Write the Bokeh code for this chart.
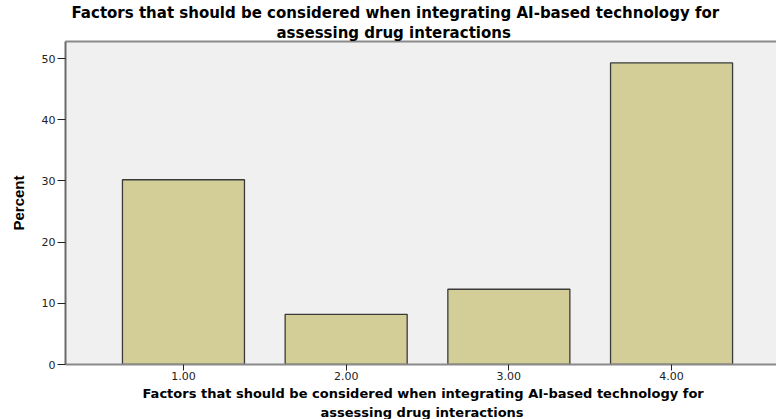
from bokeh.plotting import figure
from bokeh.models import Range1d, FixedTicker, ColumnDataSource, Title, LinearAxis
from bokeh.embed import file_html
from bokeh.resources import INLINE

# ---- data ----
categories = [1, 2, 3, 4]
tick_labels = ["1.00", "2.00", "3.00", "4.00"]
percent = [30.2, 8.2, 12.3, 49.3]
y_ticks = [0, 10, 20, 30, 40, 50]
title_lines = ["Factors that should be considered when integrating AI-based technology for",
               "assessing drug interactions"]
x_label_lines = ["Factors that should be considered when integrating AI-based technology for",
                 "assessing drug interactions"]
y_label = "Percent"

src = ColumnDataSource(dict(x=categories, top=percent))

p = figure(width=776, height=419, output_backend="svg", toolbar_location=None, title=None,
           x_range=Range1d(0.275, 4.645), y_range=Range1d(0, 52.8),
           min_border_left=65, min_border_right=0, min_border_top=41, min_border_bottom=53)

p.background_fill_color = "#F0F0F0"
p.border_fill_color = "white"
p.outline_line_color = None

p.vbar(x="x", top="top", width=0.75, source=src, fill_color="#D3CE97",
       line_color="#3a3a3a", line_width=1.3)

p.xgrid.visible = False
p.ygrid.visible = False

# bottom x axis
xa = p.below[0]
xa.ticker = FixedTicker(ticks=categories)
xa.major_label_overrides = {c: t for c, t in zip(categories, tick_labels)}
xa.minor_tick_line_color = None
xa.major_tick_out = 6
xa.major_tick_in = 0
xa.major_tick_line_color = "#222222"
xa.axis_line_color = "#8a8a8a"
xa.axis_line_width = 2
xa.major_label_text_font = "DejaVu Sans"
xa.major_label_text_font_size = "11px"
xa.major_label_text_color = "#222222"
xa.major_label_standoff = 1

# y axis
ya = p.left[0]
ya.ticker = FixedTicker(ticks=y_ticks)
ya.minor_tick_line_color = None
ya.major_tick_out = 8
ya.major_tick_in = 0
ya.major_tick_line_color = "#222222"
ya.axis_line_color = "#6a6a6a"
ya.axis_line_width = 2
ya.major_label_text_font = "DejaVu Sans"
ya.major_label_text_font_size = "11px"
ya.major_label_text_color = "#222222"
ya.major_label_standoff = 2
ya.axis_label = y_label
ya.axis_label_text_font = "'Liberation Sans Narrow', 'Liberation Sans', sans-serif"
ya.axis_label_text_font_style = "bold"
ya.axis_label_text_font_size = "15px"
ya.axis_label_text_color = "black"
ya.axis_label_standoff = 12

# top border of the frame (an axis without ticks)
top_axis = LinearAxis(ticker=FixedTicker(ticks=[]), axis_line_color="#8a8a8a", axis_line_width=2,
                      major_tick_line_color=None, minor_tick_line_color=None,
                      major_label_text_font_size="0px", major_label_standoff=0,
                      major_tick_out=0, major_tick_in=0)
p.add_layout(top_axis, "above")

# title: second line nearest the frame, first line above it (left offsets centre the lines)
title_offsets = [6, 276 - 65]
for txt, off in reversed(list(zip(title_lines, title_offsets))):
    p.add_layout(Title(text=txt, align="left", offset=off, standoff=0,
                       text_font="DejaVu Sans", text_font_style="bold",
                       text_font_size="15px", text_color="black"), "above")

# x-axis label lines below the axis
xl_offsets = [422 - 65 - 280, 422 - 65 - 102]
xl_standoffs = [3, 0]
for txt, off, so in zip(x_label_lines, xl_offsets, xl_standoffs):
    p.add_layout(Title(text=txt, align="left", offset=off, standoff=so,
                       text_font="DejaVu Sans", text_font_style="bold",
                       text_font_size="13px", text_color="black"), "below")

open("out.html", "w").write(file_html(p, INLINE))
